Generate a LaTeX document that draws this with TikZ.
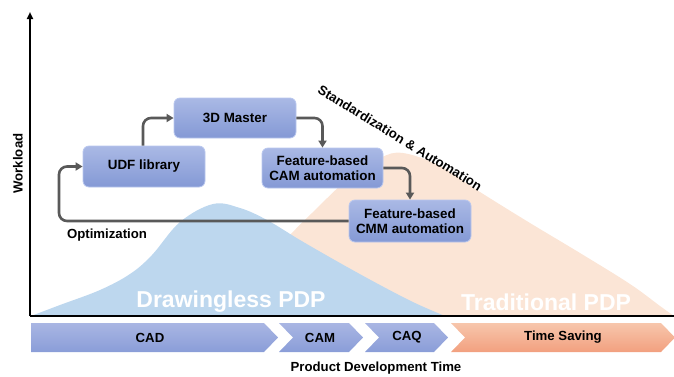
\documentclass[tikz,border=0pt]{standalone}
\usepackage{fontspec}
\setmainfont{Liberation Sans}
\usetikzlibrary{arrows.meta}

\definecolor{boxtop}{HTML}{AAB9E5}
\definecolor{boxbot}{HTML}{8499D5}
\definecolor{boxline}{HTML}{B9C7EE}
\definecolor{chevtop}{HTML}{A9B6E3}
\definecolor{chevbot}{HTML}{8A9DD8}
\definecolor{savetop}{HTML}{F7C6AC}
\definecolor{savebot}{HTML}{F2A07F}
\definecolor{drawless}{HTML}{BDD7EE}
\definecolor{tradfill}{HTML}{FBE5D6}
\definecolor{flowgray}{HTML}{595959}

\tikzset{
  stepbox/.style={draw=boxline, line width=0.8pt, rounded corners=6pt,
    top color=boxtop, bottom color=boxbot, align=center,
    font=\fontsize{13.4}{15.5}\selectfont\bfseries, inner sep=2pt},
  flow/.style={draw=flowgray, line width=2.6pt, rounded corners=8pt,
    -{Triangle[length=7pt,width=8pt]}},
  chevblue/.style={top color=chevtop, bottom color=chevbot},
  chevsave/.style={top color=savetop, bottom color=savebot},
  chevlabel/.style={font=\fontsize{13.2}{15}\selectfont\bfseries},
  axislabel/.style={font=\fontsize{13.2}{15}\selectfont\bfseries},
  bigwhite/.style={font=\fontsize{23}{28}\selectfont\bfseries, text=white}
}

\begin{document}
\begin{tikzpicture}[x=1pt,y=-1pt]
\useasboundingbox (0,0) rectangle (674,376);

% workload curves
\fill[tradfill] plot[smooth, tension=0.6] coordinates {(230,316) (260,268) (290,235) (312,213) (350,177) (380,158) (403,153) (440,166) (480,192) (530,223) (580,253) (630,284) (660,306) (674,316)} -- cycle;
\fill[drawless] plot[smooth, tension=0.6] coordinates {(31,316) (60,305) (100,290) (130,274) (152,255) (180,222) (213,204) (240,208) (267,220) (300,240) (340,263) (380,285) (415,303) (445,316)} -- cycle;

\node[bigwhite] (dlpdp) at (231,302) {Drawingless PDP};
\node[bigwhite] (trpdp) at (546,302) {Traditional PDP};

% axes
\draw[line width=2pt] (674,316) -- (30,316);
\draw[line width=2pt, -{Triangle[length=7pt,width=6pt]}] (30,316) -- (30,12);

% process boxes
\node[stepbox, minimum width=122pt, minimum height=41pt] (udf) at (144,166.5) {UDF library};
\node[stepbox, minimum width=122pt, minimum height=40pt] (master) at (235,118) {3D Master};
\node[stepbox, minimum width=121pt, minimum height=40pt] (cam) at (322.5,168) {Feature-based\\CAM automation};
\node[stepbox, minimum width=122pt, minimum height=42pt] (cmm) at (410,221) {Feature-based\\CMM automation};

% flow arrows
\coordinate (loop) at (59,221);
\draw[flow] (udf.north -| 143,0) |- (master.west);
\draw[flow] (master.east) -| (cam.north);
\draw[flow] (cam.east) -| (cmm.north);
\draw[flow] (cmm.west) -- (loop) |- (udf.west);

% texts
\node[axislabel] (opt) at (107,235) {Optimization};
\node[axislabel, rotate=-31.4] (std) at (400,138) {Standardization \& Automation};
\node[axislabel, rotate=90] (wl) at (18,163.5) {Workload};
\node[axislabel] (pdt) at (376,368) {Product Development Time};

% phase chevrons
\path[chevblue] (31,323) -- (264,323) -- (278,337.5) -- (264,352) -- (31,352) -- cycle;
\path[chevblue] (279,323) -- (349,323) -- (363,337.5) -- (349,352) -- (279,352) -- (293,337.5) -- cycle;
\path[chevblue] (365,323) -- (434,323) -- (448,337.5) -- (434,352) -- (365,352) -- (379,337.5) -- cycle;
\path[chevsave] (451,323) -- (661,323) -- (675,337.5) -- (661,352) -- (451,352) -- (465,337.5) -- cycle;
\node[chevlabel] (cad) at (150,337.5) {CAD};
\node[chevlabel] (camph) at (320,337.5) {CAM};
\node[chevlabel] (caq) at (407,337.5) {CAQ};
\node[chevlabel] (saving) at (563,337.5) {Time Saving};
\end{tikzpicture}
\end{document}
